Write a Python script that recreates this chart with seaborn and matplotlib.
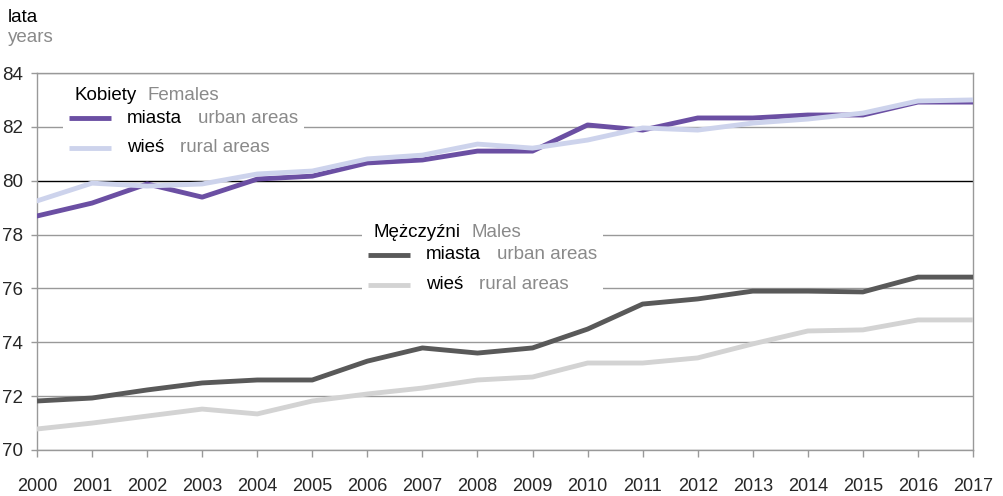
import pandas as pd
import matplotlib.pyplot as plt
import seaborn as sns
from matplotlib.lines import Line2D
from matplotlib.offsetbox import AnchoredOffsetbox, TextArea, HPacker, VPacker, DrawingArea

# values (life expectancy, years)
years = list(range(2000, 2018))
females_urban = [78.69, 79.17, 79.88, 79.39, 80.06, 80.17, 80.66, 80.77, 81.10, 81.10,
                 82.07, 81.88, 82.33, 82.33, 82.44, 82.44, 82.92, 82.92]
females_rural = [79.25, 79.91, 79.80, 79.88, 80.25, 80.36, 80.81, 80.95, 81.36, 81.21,
                 81.51, 81.96, 81.88, 82.14, 82.29, 82.51, 82.96, 83.00]
males_urban = [71.82, 71.93, 72.23, 72.49, 72.60, 72.60, 73.30, 73.79, 73.60, 73.79,
               74.49, 75.42, 75.61, 75.90, 75.90, 75.87, 76.42, 76.42]
males_rural = [70.78, 71.00, 71.26, 71.52, 71.34, 71.82, 72.08, 72.30, 72.60, 72.71,
               73.23, 73.23, 73.42, 73.94, 74.42, 74.46, 74.83, 74.83]
y_ticks = [70, 72, 74, 76, 78, 80, 82, 84]

series_names = ["K miasta", "K wieś", "M miasta", "M wieś"]
colors = {"K miasta": "#6b4fa3", "K wieś": "#cdd3ec",
          "M miasta": "#595959", "M wieś": "#d3d3d3"}

df = pd.concat([
    pd.DataFrame({"year": years, "value": vals, "series": name})
    for name, vals in zip(series_names, [females_urban, females_rural, males_urban, males_rural])
])

sns.set_style("white")
plt.rcParams["font.family"] = ["Liberation Sans", "DejaVu Sans"]

fig = plt.figure(figsize=(10.04, 4.96), dpi=100)
ax = fig.add_axes([37 / 1004, 1 - 450 / 496, 936 / 1004, 377 / 496])

sns.lineplot(data=df, x="year", y="value", hue="series", hue_order=series_names,
             palette=colors, linewidth=3.5, legend=False, ax=ax, zorder=3)

ax.set_xlim(2000, 2017)
ax.set_ylim(70, 84)
ax.set_xticks(years)
ax.set_yticks(y_ticks)
ax.set_xlabel("")
ax.set_ylabel("")
ax.tick_params(axis="x", labelsize=13, length=5, width=1, color="#999999", pad=15, direction="out", bottom=True)
ax.tick_params(axis="y", labelsize=13.5, length=4, width=1, color="#999999", pad=6, direction="out", left=True)

ax.grid(axis="y", color="#999999", linewidth=1)
ax.set_axisbelow(True)
for val, gl in zip(y_ticks, ax.yaxis.get_gridlines()):
    if val == 80:
        gl.set_color("black")
for side in ["left", "right", "top", "bottom"]:
    ax.spines[side].set_color("#999999")
    ax.spines[side].set_linewidth(1)

grey = "#8a8a8a"
fig.text(8 / 1004, 1 - 17 / 496, "lata", fontsize=13.5, va="center", ha="left", color="black")
fig.text(8 / 1004, 1 - 38 / 496, "years", fontsize=13.5, va="center", ha="left", color=grey)


def legend_box(title, title_en, labels, labels_en, line_colors, anchor):
    fs = 13.5

    def txt(s, c):
        return TextArea(s, textprops=dict(fontsize=fs, color=c))

    title_row = HPacker(children=[DrawingArea(0.5, 1),
                                  HPacker(children=[txt(title, "black"), txt(title_en, grey)],
                                          sep=8, pad=0, align="baseline")],
                        sep=3, pad=0, align="center")
    rows = []
    for lab, en, col in zip(labels, labels_en, line_colors):
        da = DrawingArea(30, 10)
        da.add_artist(Line2D([0, 30], [5, 5], color=col, lw=3.5, solid_capstyle="butt"))
        rows.append(HPacker(children=[da, HPacker(children=[txt(lab, "black"), txt(en, grey)],
                                                  sep=11.5, pad=0, align="baseline")],
                            sep=11.5, pad=0, align="center"))
    body = VPacker(children=rows, sep=9.1, pad=0, align="left")
    box = VPacker(children=[title_row, body], sep=3.9, pad=0, align="left")
    anchored = AnchoredOffsetbox(loc="upper left", child=box, pad=0.45, borderpad=0,
                                 frameon=True, bbox_to_anchor=anchor,
                                 bbox_transform=ax.transAxes)
    anchored.patch.set_facecolor("white")
    anchored.patch.set_edgecolor("none")
    anchored.set_zorder(4)
    ax.add_artist(anchored)


legend_box("Kobiety", "Females", ["miasta", "wieś"], ["urban areas", "rural areas"],
           [colors["K miasta"], colors["K wieś"]], (0.0278, 0.979))
legend_box("Mężczyźni", "Males", ["miasta", "wieś"], ["urban areas", "rural areas"],
           [colors["M miasta"], colors["M wieś"]], (0.3472, 0.616))

fig.savefig("out.png", dpi=100)
